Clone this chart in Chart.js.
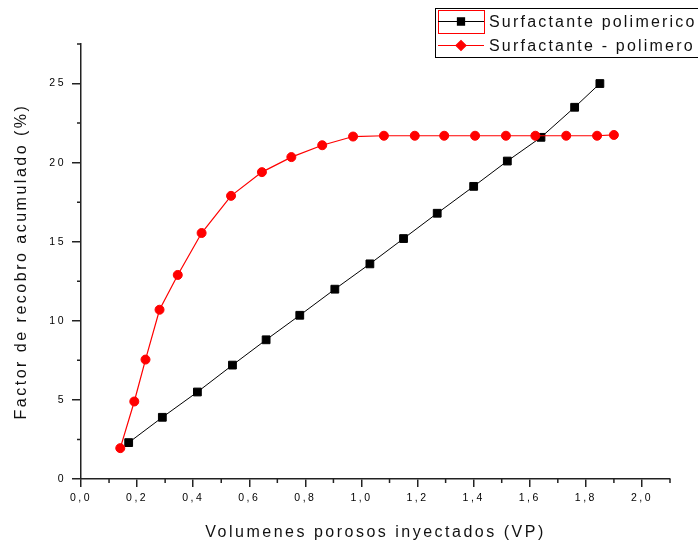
<!DOCTYPE html>
<html>
<head>
<meta charset="utf-8">
<script src="https://cdn.jsdelivr.net/npm/chart.js@4/dist/chart.umd.min.js"></script>
<style>
  body { margin: 0; background: #fff; }
  #wrap { width: 698px; height: 545px; }
</style>
</head>
<body>
<div id="wrap"><canvas id="recobroChart" width="698" height="545"></canvas></div>
<script>
// valores
const polimericoX = [0.17, 0.29, 0.415, 0.54, 0.66, 0.78, 0.905, 1.03, 1.15, 1.27, 1.40, 1.52, 1.64, 1.76, 1.85];
const polimericoY = [2.3, 3.9, 5.5, 7.2, 8.8, 10.35, 12.0, 13.6, 15.2, 16.8, 18.5, 20.1, 21.6, 23.5, 25.0];
const polimeroX = [0.14, 0.19, 0.23, 0.28, 0.345, 0.43, 0.535, 0.645, 0.75, 0.86, 0.97, 1.08, 1.19, 1.295, 1.405, 1.515, 1.62, 1.73, 1.84, 1.90];
const polimeroY = [1.95, 4.9, 7.55, 10.7, 12.9, 15.55, 17.9, 19.4, 20.35, 21.1, 21.65, 21.7, 21.7, 21.7, 21.7, 21.7, 21.7, 21.7, 21.7, 21.75];

const seriesLabels = ['Surfactante polimerico', 'Surfactante - polimero'];
const xTitle = 'Volumenes porosos inyectados (VP)';
const yTitle = 'Factor de recobro acumulado (%)';
const xMinorTicks = [0.1, 0.3, 0.5, 0.7, 0.9, 1.1, 1.3, 1.5, 1.7, 1.9, 2.1];
const yMinorTicks = [2.5, 7.5, 12.5, 17.5, 22.5, 27.5];

const FONT = "'Liberation Sans', Arial, sans-serif";

function toPoints(xs, ys) {
  return xs.map((x, i) => ({ x: x, y: ys[i] }));
}

// espaciado de letras como en la figura original
const spacingPlugin = {
  id: 'spacing',
  beforeDraw(chart) {
    chart.ctx.letterSpacing = '2.5px';
  }
};

const minorTicksPlugin = {
  id: 'minorTicks',
  afterDraw(chart) {
    const ctx = chart.ctx;
    const xs = chart.scales.x, ys = chart.scales.y;
    ctx.save();
    ctx.strokeStyle = '#222';
    ctx.lineWidth = 1.5;
    ctx.beginPath();
    xMinorTicks.forEach(v => {
      const px = xs.getPixelForValue(v);
      ctx.moveTo(px, ys.bottom);
      ctx.lineTo(px, ys.bottom + 4);
    });
    yMinorTicks.forEach(v => {
      const py = ys.getPixelForValue(v);
      ctx.moveTo(xs.left, py);
      ctx.lineTo(xs.left - 4, py);
    });
    ctx.stroke();
    ctx.restore();
  }
};

const legendSymbols = ['rect', 'rectRot'];

const legendBoxPlugin = {
  id: 'legendBox',
  afterDraw(chart) {
    const ctx = chart.ctx;
    ctx.save();
    ctx.strokeStyle = '#000';
    ctx.lineWidth = 1;
    ctx.strokeRect(435.5, 8.5, 290, 49);
    // marco rojo de seleccion alrededor del primer simbolo
    ctx.strokeStyle = '#ff0000';
    ctx.strokeRect(438.5, 10.5, 46, 23);
    const rows = [21.5, 45.5];
    chart.data.datasets.forEach((ds, i) => {
      const y = rows[i];
      ctx.strokeStyle = ds.borderColor;
      ctx.lineWidth = 1.2;
      ctx.beginPath();
      ctx.moveTo(438, y);
      ctx.lineTo(484, y);
      ctx.stroke();
      ctx.fillStyle = ds.pointBackgroundColor;
      ctx.strokeStyle = ds.pointBorderColor;
      Chart.helpers.drawPoint(ctx, {
        pointStyle: legendSymbols[i],
        radius: 5,
        borderWidth: 1,
        rotation: 0
      }, 461, y);
      ctx.letterSpacing = '2.2px';
      ctx.fillStyle = '#111';
      ctx.font = '16px ' + FONT;
      ctx.textBaseline = 'middle';
      ctx.textAlign = 'left';
      ctx.fillText(ds.label, 489, y + 1);
    });
    ctx.restore();
  }
};

new Chart(document.getElementById('recobroChart'), {
  type: 'scatter',
  data: {
    datasets: [
      {
        label: seriesLabels[0],
        data: toPoints(polimericoX, polimericoY),
        showLine: true,
        borderColor: '#000',
        borderWidth: 1,
        pointStyle: 'rect',
        pointRadius: 5.5,
        pointBorderWidth: 1,
        pointBackgroundColor: '#000',
        pointBorderColor: '#000',
        order: 1
      },
      {
        label: seriesLabels[1],
        data: toPoints(polimeroX, polimeroY),
        showLine: true,
        borderColor: '#ff0000',
        borderWidth: 1.2,
        pointStyle: 'circle',
        pointRadius: 4.5,
        pointBorderWidth: 1,
        pointBackgroundColor: '#ff0000',
        pointBorderColor: '#ff0000',
        order: 0
      }
    ]
  },
  options: {
    responsive: false,
    animation: false,
    layout: { padding: { left: 0, top: 44, right: 28, bottom: 0 } },
    plugins: {
      legend: { display: false },
      tooltip: { enabled: false }
    },
    scales: {
      x: {
        type: 'linear',
        min: 0,
        max: 2.1,
        afterFit(scale) { scale.height = 66; },
        border: { color: '#222', width: 1.5 },
        grid: { drawOnChartArea: false, drawTicks: true, tickLength: 8, color: '#222', lineWidth: 1.5 },
        ticks: {
          stepSize: 0.2,
          includeBounds: false,
          padding: 5,
          color: '#000',
          font: { family: FONT, size: 10.5 },
          callback: v => v.toFixed(1).replace('.', ',')
        },
        title: {
          display: true,
          text: xTitle,
          color: '#111',
          font: { family: FONT, size: 16 },
          padding: { top: 0, bottom: 2.4 }
        }
      },
      y: {
        type: 'linear',
        min: 0,
        max: 27.5,
        afterFit(scale) { scale.width = 81; },
        border: { color: '#222', width: 1.5 },
        grid: { drawOnChartArea: false, drawTicks: true, tickLength: 9, color: '#222', lineWidth: 1.5 },
        ticks: {
          stepSize: 5,
          includeBounds: false,
          padding: 6,
          color: '#000',
          font: { family: FONT, size: 10.5 }
        },
        title: {
          display: true,
          text: yTitle,
          color: '#111',
          font: { family: FONT, size: 16 },
          padding: { top: 12.4, bottom: 0 }
        }
      }
    }
  },
  plugins: [spacingPlugin, minorTicksPlugin, legendBoxPlugin]
});
</script>
</body>
</html>
